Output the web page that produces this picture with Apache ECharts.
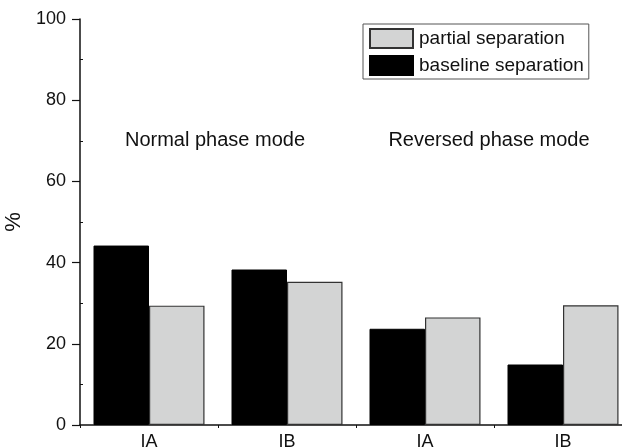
<!DOCTYPE html>
<html>
<head>
<meta charset="utf-8">
<script src="https://cdn.jsdelivr.net/npm/echarts@6/dist/echarts.min.js"></script>
<style>
  html, body { margin: 0; padding: 0; background: #fff; }
  #chart { width: 622px; height: 447px; }
</style>
</head>
<body>
<div id="chart"></div>
<script>
// Share of peaks resolved per column type and elution mode
const categories = ['IA', 'IB', 'IA', 'IB'];
const baselineSeparation = [44.2, 38.3, 23.7, 14.9];
const partialSeparation = [29.4, 35.3, 26.5, 29.5];
const yTicks = [0, 20, 40, 60, 80, 100];
const modeLabels = ['Normal phase mode', 'Reversed phase mode'];

const font = 'Liberation Sans, Arial, sans-serif';
const chart = echarts.init(document.getElementById('chart'));

chart.setOption({
  animation: false,
  backgroundColor: '#fff',
  textStyle: { fontFamily: font },
  // the plot area runs a little past the right edge of the canvas
  grid: { left: 80, top: 19, height: 406, width: 552, outerBoundsMode: 'none', containLabel: false },
  legend: {
    orient: 'vertical',
    left: 363,
    top: 24,
    padding: [4, 5, 3, 6],
    itemGap: 6,
    itemWidth: 43,
    itemHeight: 19,
    icon: 'rect',
    borderColor: '#555',
    borderWidth: 1,
    borderRadius: 0,
    data: ['partial separation', 'baseline separation'],
    textStyle: { fontSize: 19, color: '#111', fontFamily: font, padding: [0, 0, 0, 1] }
  },
  xAxis: {
    type: 'category',
    data: categories,
    axisLine: { lineStyle: { color: '#111', width: 1.5 } },
    axisTick: { show: true, length: 3, lineStyle: { color: '#111' } },
    axisLabel: { fontSize: 18, color: '#111', margin: 8, fontFamily: font }
  },
  yAxis: {
    type: 'value',
    min: yTicks[0],
    max: yTicks[yTicks.length - 1],
    interval: 20,
    name: '%',
    nameLocation: 'middle',
    nameGap: 54,
    nameTextStyle: { fontSize: 22, color: '#111', fontFamily: font },
    splitLine: { show: false },
    axisLine: { show: true, lineStyle: { color: '#111', width: 1.5 } },
    axisTick: { show: true, length: 8, lineStyle: { color: '#111', width: 1.2 } },
    minorTick: { show: true, splitNumber: 2, length: -3, lineStyle: { color: '#111' } },
    axisLabel: { fontSize: 18, color: '#111', margin: 14, fontFamily: font }
  },
  series: [
    {
      name: 'baseline separation',
      type: 'bar',
      data: baselineSeparation,
      barWidth: 55.5,
      barGap: '0%',
      itemStyle: { color: '#000', borderColor: '#000', borderWidth: 1 }
    },
    {
      name: 'partial separation',
      type: 'bar',
      data: partialSeparation,
      barWidth: 55.5,
      barGap: '0%',
      itemStyle: { color: '#d3d4d4', borderColor: '#333', borderWidth: 1.2 }
    }
  ]
});

// Mode captions centred over each pair of categories
function placeCaptions() {
  const xAt = (i) => chart.convertToPixel({ xAxisIndex: 0 }, i);
  const yAt = chart.convertToPixel({ yAxisIndex: 0 }, 70);
  const leftX = (xAt(0) + xAt(1)) / 2;
  const rightX = (xAt(2) + xAt(3)) / 2;
  const style = (text) => ({ text, font: '20px ' + font, fill: '#111', textAlign: 'center', textVerticalAlign: 'middle' });
  chart.setOption({
    graphic: [
      { type: 'text', x: leftX - 3, y: yAt, style: style(modeLabels[0]) },
      { type: 'text', x: rightX - 5, y: yAt, style: style(modeLabels[1]) }
    ]
  });
}
placeCaptions();
</script>
</body>
</html>
